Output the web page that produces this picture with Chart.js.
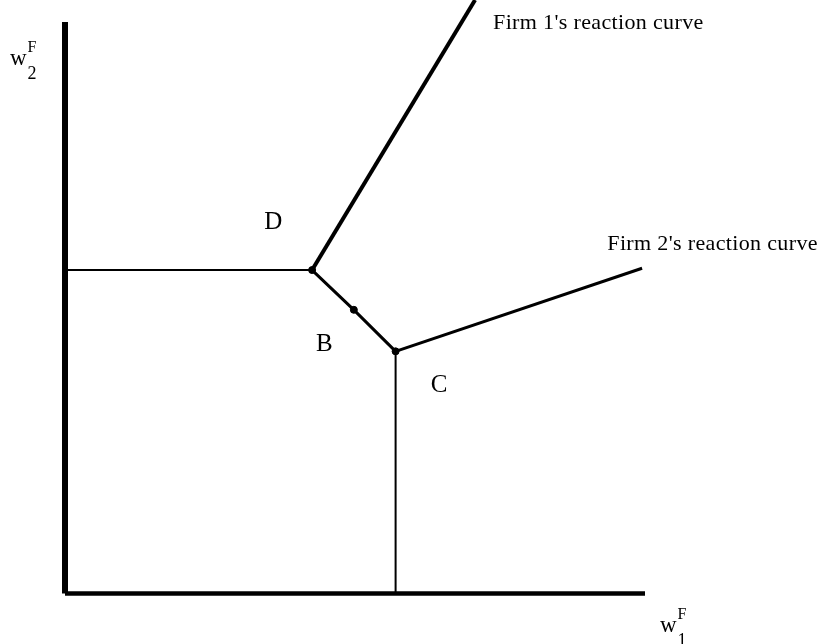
<!DOCTYPE html>
<html>
<head>
<meta charset="utf-8">
<script src="https://cdn.jsdelivr.net/npm/chart.js@4/dist/chart.umd.min.js"></script>
<style>
html,body{margin:0;padding:0;background:#fff;}
#wrap{width:822px;height:644px;position:relative;}
</style>
</head>
<body>
<div id="wrap"><canvas id="c" width="822" height="644"></canvas></div>
<script>
// ---- data (in diagram units 0..10) ----
const yAxisLine        = [{x:0, y:0}, {x:0, y:9.63}];
const xAxisLine        = [{x:0, y:0}, {x:10, y:0}];
const horizontalBranch = [{x:0, y:5.45}, {x:4.26, y:5.45}];
const firm1Curve       = [{x:4.26, y:5.45}, {x:7.07, y:10}];
const segmentB         = [{x:4.26, y:5.45}, {x:4.98, y:4.78}, {x:5.70, y:4.08}];
const firm2Curve       = [{x:5.70, y:4.08}, {x:9.95, y:5.48}];
const verticalBranch   = [{x:5.70, y:4.08}, {x:5.70, y:0}];
const markedPoints     = [{x:4.26, y:5.45}, {x:4.98, y:4.78}, {x:5.70, y:4.08}];

const regionLabels = ['D', 'B', 'C'];
const curveLabels  = ["Firm 1's reaction curve", "Firm 2's reaction curve"];

// annotation anchors (diagram units)
const regionAnchors = [{x:3.59, y:6.25}, {x:4.47, y:4.20}, {x:6.45, y:3.51}];
const curveAnchors  = [{x:7.38, y:9.51}, {x:9.35, y:5.78}];

function lineDs(data, width){
  return {data, showLine:true, borderColor:'#000', backgroundColor:'#000',
          borderWidth:width, pointRadius:0, fill:false, clip:false, tension:0,
          borderCapStyle:'butt'};
}

const textPlugin = {
  id:'texts',
  afterDatasetsDraw(chart){
    const ctx = chart.ctx, xs = chart.scales.x, ys = chart.scales.y;
    ctx.save();
    ctx.fillStyle = '#000';
    ctx.textBaseline = 'middle';
    ctx.textAlign = 'center';
    ctx.font = '25px "Liberation Serif", serif';
    regionLabels.forEach((t,i)=>{
      ctx.fillText(t, xs.getPixelForValue(regionAnchors[i].x), ys.getPixelForValue(regionAnchors[i].y));
    });
    ctx.textAlign = 'left';
    ctx.textBaseline = 'alphabetic';
    ctx.font = '22px "Liberation Serif", serif';
    if ('letterSpacing' in ctx) ctx.letterSpacing = '0.35px';
    curveLabels.forEach((t,i)=>{
      ctx.fillText(t, xs.getPixelForValue(curveAnchors[i].x), ys.getPixelForValue(curveAnchors[i].y));
    });
    if ('letterSpacing' in ctx) ctx.letterSpacing = '0px';
    // axis titles
    function wLabel(x, y, sub){
      ctx.font = '23px "Liberation Serif", serif';
      ctx.fillText('w', x, y);
      const w = ctx.measureText('w').width;
      ctx.font = '16px "Liberation Serif", serif';
      ctx.fillText('F', x + w + 1, y - 13);
      ctx.font = '18px "Liberation Serif", serif';
      ctx.fillText(sub, x + w + 1, y + 14);
    }
    const x0 = xs.getPixelForValue(0), y0 = ys.getPixelForValue(0);
    wLabel(x0 - 55, ys.getPixelForValue(8.9), '2');
    wLabel(xs.getPixelForValue(10) + 15, y0 + 38, '1');
    ctx.restore();
  }
};

new Chart(document.getElementById('c'), {
  type:'scatter',
  data:{datasets:[
    lineDs(yAxisLine, 6),
    lineDs(xAxisLine, 4.5),
    lineDs(horizontalBranch, 2),
    lineDs(firm1Curve, 4),
    lineDs(segmentB, 3),
    lineDs(firm2Curve, 3),
    lineDs(verticalBranch, 2),
    {data:markedPoints, showLine:false, pointRadius:3.5, pointStyle:'circle',
     backgroundColor:'#000', borderColor:'#000', clip:false}
  ]},
  options:{
    responsive:false,
    animation:false,
    events:[],
    layout:{autoPadding:false, padding:{left:65, right:177, top:0, bottom:50.5}},
    plugins:{legend:{display:false}, tooltip:{enabled:false}},
    scales:{
      x:{type:'linear', min:0, max:10, display:false},
      y:{type:'linear', min:0, max:10, display:false}
    }
  },
  plugins:[textPlugin]
});
</script>
</body>
</html>
